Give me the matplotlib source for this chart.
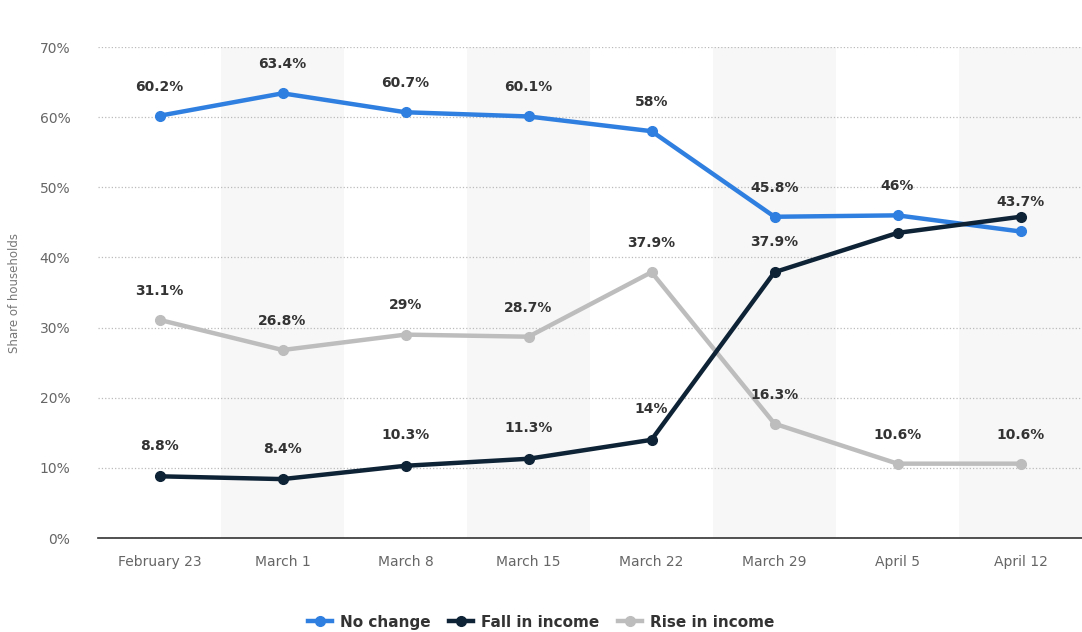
import matplotlib.pyplot as plt
from matplotlib.ticker import FuncFormatter

dates = ['February 23', 'March 1', 'March 8', 'March 15', 'March 22', 'March 29', 'April 5', 'April 12']
no_change = [60.2, 63.4, 60.7, 60.1, 58, 45.8, 46, 43.7]
fall_income = [8.8, 8.4, 10.3, 11.3, 14, 37.9, 43.5, 45.8]
rise_income = [31.1, 26.8, 29, 28.7, 37.9, 16.3, 10.6, 10.6]
# labels that statista hides because they overlap
fall_labels = ['8.8%', '8.4%', '10.3%', '11.3%', '14%', '37.9%', '', '']

c_blue = '#2f7fe0'
c_navy = '#0e2336'
c_gray = '#bdbdbd'

fig = plt.figure(figsize=(10.82, 6.32), dpi=100)
ax = fig.add_axes([0.0906, 0.1487, 0.9094, 0.7769])

x = range(len(dates))
for i in x:
    if i % 2 == 1:
        ax.axvspan(i - 0.5, i + 0.5, color='#f7f7f7', zorder=0, lw=0)

ax.plot(x, no_change, color=c_blue, lw=3.2, marker='o', markersize=7, label='No change', zorder=3)
ax.plot(x, fall_income, color=c_navy, lw=3.2, marker='o', markersize=7, label='Fall in income', zorder=4)
ax.plot(x, rise_income, color=c_gray, lw=3.2, marker='o', markersize=7, label='Rise in income', zorder=2)

def fmt(v):
    return ('%g' % v) + '%'

for i in x:
    ax.annotate(fmt(no_change[i]), (i, no_change[i]), xytext=(0, 21), textcoords='offset points',
                ha='center', va='center', fontsize=10, fontweight='bold', color='#333333', zorder=6)
    ax.annotate(fmt(rise_income[i]), (i, rise_income[i]), xytext=(0, 21), textcoords='offset points',
                ha='center', va='center', fontsize=10, fontweight='bold', color='#333333', zorder=6)
    if fall_labels[i]:
        ax.annotate(fall_labels[i], (i, fall_income[i]), xytext=(0, 22), textcoords='offset points',
                    ha='center', va='center', fontsize=10, fontweight='bold', color='#333333', zorder=6)

ax.set_xlim(-0.5, len(dates) - 0.5)
ax.set_ylim(0, 70)
ax.set_yticks(range(0, 71, 10))
ax.yaxis.set_major_formatter(FuncFormatter(lambda v, p: '%d%%' % v))
ax.set_xticks(list(x))
ax.set_xticklabels(dates)
ax.tick_params(axis='both', length=0, labelsize=10, colors='#666666')
ax.tick_params(axis='x', pad=12)
ax.tick_params(axis='y', pad=20)
ax.grid(axis='y', linestyle=':', color='#bbbbbb', lw=0.9)
ax.set_axisbelow(True)
for s in ['top', 'right', 'left']:
    ax.spines[s].set_visible(False)
ax.spines['bottom'].set_color('#333333')
ax.spines['bottom'].set_linewidth(1.2)
ax.set_ylabel('Share of households', fontsize=8.5, color='#777777', labelpad=8)
ax.yaxis.set_label_coords(-0.078, 0.5)

leg = fig.legend(loc='lower center', bbox_to_anchor=(0.5, -0.018), ncol=3, frameon=False,
                 fontsize=11, handlelength=1.6, columnspacing=1.2, handletextpad=0.5)
for t in leg.get_texts():
    t.set_fontweight('bold')
    t.set_color('#333333')

fig.savefig('out.png', dpi=100)
